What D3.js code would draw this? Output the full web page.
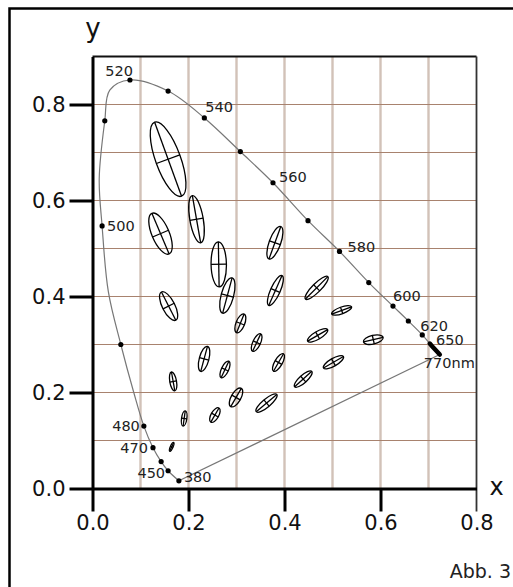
<!DOCTYPE html>
<html>
<head>
<meta charset="utf-8">
<script src="https://cdn.jsdelivr.net/npm/d3@7"></script>
<style>
body { margin: 0; background: #fff; }
svg { display: block; font-family: "DejaVu Sans", sans-serif; }
</style>
</head>
<body>
<svg width="513" height="587"></svg>
<script>
// spectral locus (nm, x, y)
var wavelengths = [380, 450, 460, 470, 480, 485, 490, 495, 500, 505, 510,
    515, 520, 530, 540, 550, 560, 570, 580, 590, 600, 610, 620, 630, 650,
    770];
var locusX = [0.180, 0.1575, 0.143, 0.126, 0.107, 0.086, 0.059, 0.033,
    0.020, 0.014, 0.0256, 0.036, 0.078, 0.1575, 0.233, 0.308, 0.376, 0.449,
    0.5146, 0.5756, 0.626, 0.658, 0.687, 0.7027, 0.7075, 0.7235];
var locusY = [0.016, 0.037, 0.056, 0.085, 0.130, 0.200, 0.300, 0.410,
    0.547, 0.645, 0.766, 0.830, 0.851, 0.828, 0.772, 0.702, 0.637, 0.558,
    0.494, 0.429, 0.380, 0.349, 0.320, 0.302, 0.2965, 0.279];
var dotWavelengths = [380, 450, 460, 470, 480, 490, 500, 510, 520, 530, 540,
    550, 560, 570, 580, 590, 600, 610, 620];
var heavyWavelengths = [630, 650, 770];
var labelWavelengths = [380, 450, 470, 480, 500, 520, 540, 560, 580, 600,
    620, 650, 770];

// MacAdam ellipses (centre x, y; semi axes a, b; angle in degrees), 10x
var ellipseX = [0.165, 0.191, 0.255, 0.1575, 0.1417, 0.2167, 0.263, 0.1586,
    0.281, 0.380, 0.168, 0.2325, 0.308, 0.381, 0.467, 0.519, 0.469, 0.502,
    0.585, 0.342, 0.3875, 0.439, 0.276, 0.299, 0.3625];
var ellipseY = [0.0867, 0.146, 0.153, 0.686, 0.531, 0.561, 0.467, 0.380,
    0.402, 0.512, 0.223, 0.270, 0.344, 0.4125, 0.418, 0.371, 0.319, 0.263,
    0.310, 0.304, 0.2625, 0.228, 0.248, 0.1896, 0.178];
var ellipseA = [0.010, 0.016, 0.017, 0.082, 0.046, 0.050, 0.047, 0.033,
    0.038, 0.036, 0.020, 0.027, 0.021, 0.034, 0.033, 0.022, 0.024, 0.024,
    0.021, 0.020, 0.021, 0.024, 0.019, 0.022, 0.028];
var ellipseB = [0.0028, 0.0055, 0.008, 0.026, 0.018, 0.014, 0.016, 0.013,
    0.013, 0.012, 0.007, 0.010, 0.009, 0.010, 0.009, 0.007, 0.008, 0.008,
    0.009, 0.008, 0.008, 0.008, 0.0075, 0.010, 0.0085];
var ellipseAngle = [65, 82, 60, 110, 113, 100, 91, 117, 75, 70, 100, 75, 68,
    66, 45, 20, 30, 30, 13, 65, 60, 42, 65, 60, 40];

var xTicks = [0, 0.2, 0.4, 0.6, 0.8];
var yTicks = [0, 0.2, 0.4, 0.6, 0.8];
var gridX = [0.1, 0.2, 0.3, 0.4, 0.5, 0.6, 0.7];
var gridY = [0.1, 0.2, 0.3, 0.4, 0.5, 0.6, 0.7, 0.8];

var margin = {top: 56.5, left: 92.5, bottom: 98.5, right: 36.5};
var svg = d3.select("svg");
var width = 513 - margin.left - margin.right;
var height = 587 - margin.top - margin.bottom;

var x = d3.scaleLinear().domain([0, 0.8]).range([0, width]);
var y = d3.scaleLinear().domain([0, 0.9]).range([height, 0]);

// outer frame, runs off the page at right and bottom
svg.append("rect")
    .attr("x", 9.5).attr("y", 8.5)
    .attr("width", 600).attr("height", 700)
    .attr("fill", "none").attr("stroke", "#000").attr("stroke-width", 2.5);

var g = svg.append("g")
    .attr("transform", "translate(" + margin.left + "," + margin.top + ")");

g.selectAll("line.gx").data(gridX).join("line")
    .attr("class", "gx")
    .attr("x1", x).attr("x2", x)
    .attr("y1", 0).attr("y2", height)
    .attr("stroke", "#d2c2b8").attr("stroke-width", 2.4);

g.selectAll("line.gy").data(gridY).join("line")
    .attr("class", "gy")
    .attr("x1", 0).attr("x2", width)
    .attr("y1", y).attr("y2", y)
    .attr("stroke", "#a8826e").attr("stroke-width", 1.1);

// top and right edge of the plot
g.append("line")
    .attr("x1", 0).attr("x2", width).attr("y1", 0).attr("y2", 0)
    .attr("stroke", "#111").attr("stroke-width", 1.8);
g.append("line")
    .attr("x1", width).attr("x2", width).attr("y1", 0).attr("y2", height + 23)
    .attr("stroke", "#333").attr("stroke-width", 1.8);

var xAxis = d3.axisBottom(x).tickValues(xTicks)
    .tickFormat(d3.format(".1f")).tickSizeInner(23).tickSizeOuter(0)
    .tickPadding(4);
var yAxis = d3.axisLeft(y).tickValues(yTicks)
    .tickFormat(d3.format(".1f")).tickSizeInner(23).tickSizeOuter(0)
    .tickPadding(4);

var xAxisGroup = g.append("g")
    .attr("transform", "translate(0," + height + ")")
    .call(xAxis);
var yAxisGroup = g.append("g").call(yAxis);

[xAxisGroup, yAxisGroup].forEach(function (ax) {
    ax.select(".domain").attr("stroke", "#000").attr("stroke-width", 3);
    ax.selectAll(".tick line").attr("stroke", "#000").attr("stroke-width", 3);
    ax.selectAll(".tick text")
        .attr("fill", "#111")
        .style("font-size", "21px")
        .style("font-family", "'DejaVu Sans', sans-serif");
});
xAxisGroup.selectAll(".tick line")
    .filter(function (d) { return d === 0.8; })
    .attr("stroke", "none");

// spectral locus
var locus = wavelengths.map(function (w, i) {
    return {w: w, x: locusX[i], y: locusY[i]};
});
var byW = {};
locus.forEach(function (p) { byW[p.w] = p; });

var line = d3.line()
    .x(function (d) { return x(d.x); })
    .y(function (d) { return y(d.y); })
    .curve(d3.curveCatmullRom.alpha(0.5));

g.append("path")
    .datum(locus)
    .attr("d", line)
    .attr("fill", "none").attr("stroke", "#777").attr("stroke-width", 1.2);

g.append("path")
    .datum([byW[380], byW[770]])
    .attr("d", d3.line().x(function (d) { return x(d.x); })
        .y(function (d) { return y(d.y); }))
    .attr("fill", "none").attr("stroke", "#777").attr("stroke-width", 1.2);

g.append("path")
    .datum(heavyWavelengths.map(function (w) { return byW[w]; }))
    .attr("d", d3.line().x(function (d) { return x(d.x); })
        .y(function (d) { return y(d.y); }))
    .attr("fill", "none").attr("stroke", "#000").attr("stroke-width", 4.5)
    .attr("stroke-linecap", "round");

g.selectAll("circle.dot").data(dotWavelengths).join("circle")
    .attr("class", "dot")
    .attr("cx", function (w) { return x(byW[w].x); })
    .attr("cy", function (w) { return y(byW[w].y); })
    .attr("r", 2.6)
    .attr("fill", "#000");

var labelPos = {
    380: [5, 1.6, "start"], 450: [-3, 7, "end"], 470: [-5, 5.5, "end"],
    480: [-4, 5, "end"], 500: [5, 5.5, "start"], 520: [3, -3.7, "end"],
    540: [1, -6, "start"], 560: [6, -1, "start"], 580: [8, 1, "start"],
    600: [0, -5, "start"], 620: [-2, -4, "start"], 650: [4, -1, "start"],
    770: [-16, 13.7, "start"]
};

g.selectAll("text.wl").data(labelWavelengths).join("text")
    .attr("class", "wl")
    .attr("x", function (w) { return x(byW[w].x) + labelPos[w][0]; })
    .attr("y", function (w) { return y(byW[w].y) + labelPos[w][1]; })
    .attr("text-anchor", function (w) { return labelPos[w][2]; })
    .attr("fill", "#222")
    .style("font-size", "14.5px")
    .text(function (w) { return w === 770 ? "770nm" : String(w); });

// ellipses with their axes
var ellipses = ellipseX.map(function (cx, i) {
    return {
        cx: cx, cy: ellipseY[i], a: ellipseA[i], b: ellipseB[i],
        angle: ellipseAngle[i]
    };
});

var eg = g.selectAll("g.ell").data(ellipses).join("g")
    .attr("class", "ell")
    .attr("transform", function (d) {
        return "translate(" + x(d.cx) + "," + y(d.cy) + ") rotate(" +
                (-d.angle) + ")";
    })
    .attr("fill", "none").attr("stroke", "#000").attr("stroke-width", 1.3);

eg.append("ellipse")
    .attr("rx", function (d) { return x(d.a) - x(0); })
    .attr("ry", function (d) { return x(d.b) - x(0); });
eg.append("line")
    .attr("x1", function (d) { return x(0) - x(d.a); })
    .attr("x2", function (d) { return x(d.a) - x(0); })
    .attr("y1", 0).attr("y2", 0);
eg.append("line")
    .attr("y1", function (d) { return x(0) - x(d.b); })
    .attr("y2", function (d) { return x(d.b) - x(0); })
    .attr("x1", 0).attr("x2", 0);

// axis names and caption
svg.append("text").attr("x", 93).attr("y", 37)
    .attr("text-anchor", "middle").style("font-size", "26px")
    .attr("fill", "#111").text("y");
svg.append("text").attr("x", 496.5).attr("y", 495)
    .attr("text-anchor", "middle").style("font-size", "24px")
    .attr("fill", "#111").text("x");
svg.append("text").attr("x", 511).attr("y", 578)
    .attr("text-anchor", "end").style("font-size", "19px")
    .attr("fill", "#222").text("Abb. 3");
</script>
</body>
</html>
